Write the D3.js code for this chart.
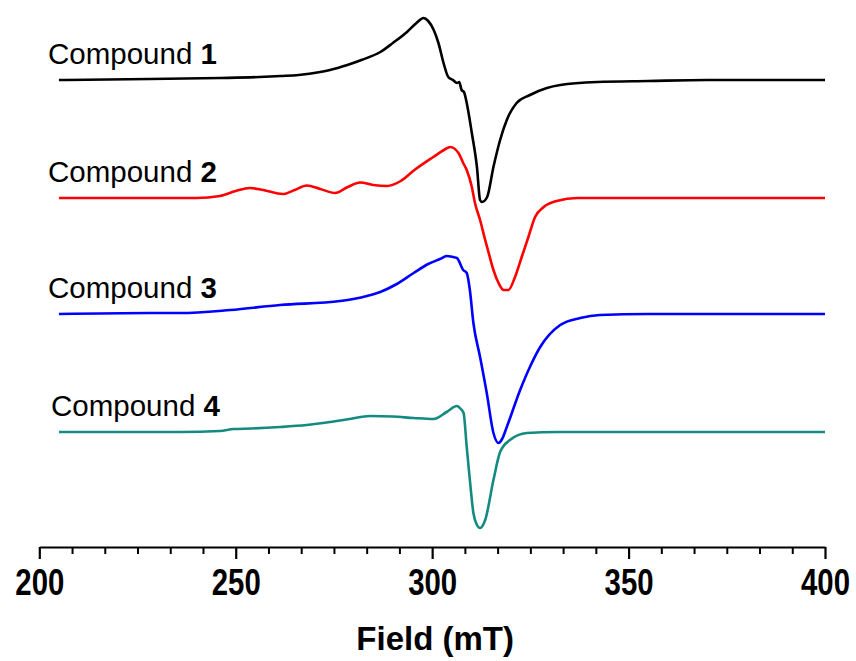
<!DOCTYPE html>
<html>
<head>
<meta charset="utf-8">
<script src="https://cdn.jsdelivr.net/npm/d3@7/dist/d3.min.js"></script>
<style>
  html, body { margin: 0; padding: 0; background: #fff; }
  svg { display: block; }
  text { font-family: "Liberation Sans", Arial, Helvetica, sans-serif; }
</style>
</head>
<body>
<svg id="chart" width="856" height="661"></svg>
<script>
// ---- Data (field in mT, intensity in arbitrary units relative to each baseline) ----
const seriesNames = ["Compound ", "Compound ", "Compound ", "Compound "];
const seriesNumbers = ["1", "2", "3", "4"];
const seriesColors = ["#000000", "#ff0000", "#0000ff", "#148a80"];
const seriesOffsets = [0, -118, -234, -352];

const field1 = [205, 228, 246, 256, 261.3, 266, 271.5, 274, 278.4, 282, 286.8, 290, 293.6, 296, 297.8, 299, 300.4, 301.6, 302.9, 304.1, 305.3, 306.3, 306.9, 307.5, 308.1, 308.8, 310.1, 311.4, 312.2, 312.7, 314, 315.6, 317.3, 319, 321.5, 324.9, 329.2, 332.6, 342, 355, 370, 400];
const int1   = [0,   1,   2,   3,   4,     5,   8,     10,  15,    20,  28,    37,  48,    57,  62,    59,  50,    37,    17,    3,     0,     -3,    -2,    -10,   -12,   -23,   -53,   -87,   -120,  -122,  -117, -87,   -60,   -40, -23,   -15,   -8,    -5,    -2,  -1,  0,   0];

const field2 = [205, 240, 246, 250, 253.6, 257, 262, 265, 268.1, 271.5, 275.3, 278.5, 281.7, 285, 288.5, 292, 295.5, 300.3, 303, 304.6, 306.7, 307.9, 308.8, 310.1, 310.9, 312.2, 313.5, 314.4, 315.6, 316.9, 318.2, 319.4, 321.1, 322.8, 324.5, 326.2, 328.4, 331.7, 337, 400];
const int2   = [0,   0,   2,   7,   10,    8,   4,   8,   12.5,  9,     5,     11,    15.5,  13,  12,    17,  28,    41,    48,  51,    45,    35,    28,    11,    -5,    -22,   -42,   -55,   -72,   -85,   -92,   -92,   -79,   -59,   -39,   -19,   -9,    -3,    0,   0];

const field3 = [205, 228, 235.9, 248.6, 261.3, 276.6, 283.4, 286.8, 291, 295.3, 299, 302, 303.7, 305.3, 306.3, 307.9, 308.8, 309.6, 310.5, 312.2, 313.9, 315.6, 316.9, 317.8, 319, 322.4, 325, 327.5, 332.6, 337.7, 342.7, 355, 400];
const int3   = [0,   1,   1,     4,     9,     13,    18,    22,    30,  41,    50,  55,  58,    57,    56,    44,    41,    24,    -9,    -43,   -79,   -119,  -129,  -125,  -113, -76,   -52,   -33,   -11,   -4,    -1,    0,   0];

const field4 = [205, 236, 246, 249.5, 254, 261.3, 268, 274, 279, 284.2, 290, 295.3, 300.3, 303.7, 306.3, 307.3, 308, 308.8, 309.6, 310.5, 311.4, 312.2, 313.5, 315.6, 317.3, 319.8, 324.1, 332, 400];
const int4   = [0,   0,   1,   3,     3.5, 5,     7,   10,  13,  16,    15.5, 14,    13,    20,    26,    23,    19,  -15,   -48,   -81,   -93,   -96,   -88,   -48,   -20,   -8,    -1,    0,   0];

const fields = [field1, field2, field3, field4];
const intensities = [int1, int2, int3, int4];

const xMajorTicks = [200, 250, 300, 350, 400];
const xMinorPerMajor = 6;
const xLabel = "Field (mT)";

// ---- Layout ----
const svg = d3.select("#chart");
const x = d3.scaleLinear().domain([200, 400]).range([39.3, 825]);
const y = d3.scaleLinear().domain([-467, 80]).range([547, 0]);
const axisY = 547;

// minor ticks
const minorTicks = [];
for (let i = 0; i < xMajorTicks.length - 1; i++) {
  const a = xMajorTicks[i], b = xMajorTicks[i + 1];
  for (let k = 1; k < xMinorPerMajor; k++) minorTicks.push(a + (b - a) * k / xMinorPerMajor);
}

const axisG = svg.append("g").attr("transform", `translate(0,${axisY})`);
axisG.call(d3.axisBottom(x).tickValues(minorTicks).tickSize(7).tickFormat(""))
  .call(g => g.selectAll("line").attr("stroke", "#000").attr("stroke-width", 2))
  .call(g => g.select(".domain").remove());
const majorAxis = svg.append("g").attr("transform", `translate(0,${axisY})`)
  .call(d3.axisBottom(x).tickValues(xMajorTicks).tickSize(12).tickSizeOuter(0).tickPadding(10).tickFormat(d3.format("d")));
majorAxis.select(".domain").attr("stroke", "#000").attr("stroke-width", 2.2);
majorAxis.selectAll("line").attr("stroke", "#000").attr("stroke-width", 2.2);
majorAxis.selectAll("text")
  .attr("fill", "#000")
  .attr("font-size", 36)
  .attr("font-weight", "bold")
  .attr("font-family", "'Liberation Sans', Arial, sans-serif")
  .attr("y", 48)
  .attr("dy", 0)
  .attr("textLength", 49)
  .attr("lengthAdjust", "spacingAndGlyphs");

svg.append("text")
  .attr("x", (x(200) + x(400)) / 2 + 3)
  .attr("y", 650)
  .attr("text-anchor", "middle")
  .attr("font-size", 33)
  .attr("font-weight", "bold")
  .text(xLabel);

// ---- Lines ----
const line = d3.line().curve(d3.curveMonotoneX);
fields.forEach((f, i) => {
  const pts = f.map((v, j) => [x(v), y(intensities[i][j] + seriesOffsets[i])]);
  svg.append("path")
    .attr("d", line(pts))
    .attr("fill", "none")
    .attr("stroke", seriesColors[i])
    .attr("stroke-width", 2.6)
    .attr("stroke-linejoin", "round");
});

// ---- Labels ----
const labelX = [48, 48, 48, 51];
seriesNames.forEach((n, i) => {
  const t = svg.append("text")
    .attr("x", labelX[i])
    .attr("y", y(seriesOffsets[i]) - 16)
    .attr("font-size", 29.5)
    .attr("fill", "#000");
  t.append("tspan").text(n);
  t.append("tspan").attr("font-weight", "bold").text(seriesNumbers[i]);
});
</script>
</body>
</html>
